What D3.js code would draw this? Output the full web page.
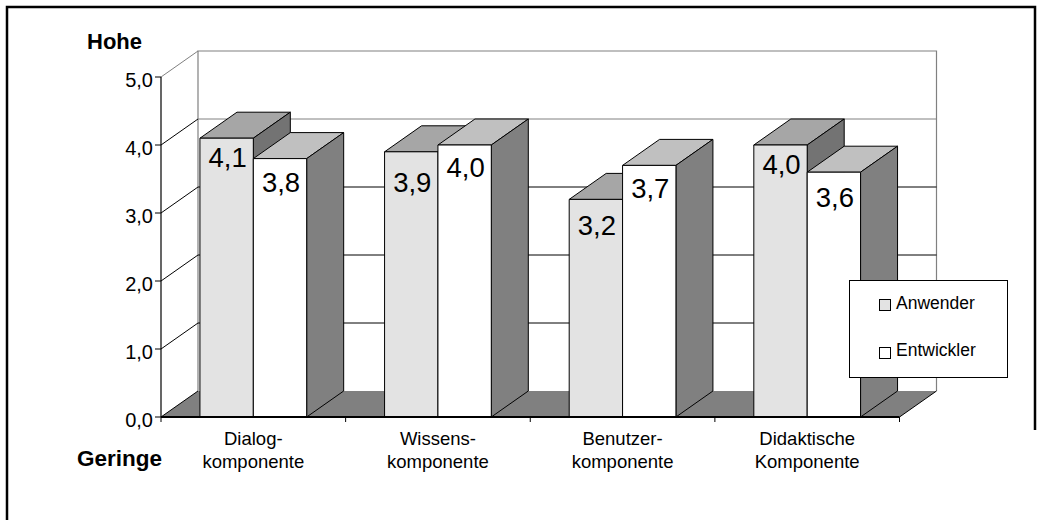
<!DOCTYPE html>
<html>
<head>
<meta charset="utf-8">
<script src="https://cdn.jsdelivr.net/npm/d3@7"></script>
<style>
  html, body { margin: 0; padding: 0; background: #fff; }
  svg { display: block; font-family: "Liberation Sans", Arial, sans-serif; }
</style>
</head>
<body>
<svg id="chart" width="1042" height="520"></svg>
<script>
// Categories (two-line labels) and the two rated groups
const categories = ["Dialogkomponente", "Wissenskomponente", "Benutzerkomponente", "Didaktische Komponente"];
const categoryLines = [["Dialog-", "komponente"], ["Wissens-", "komponente"], ["Benutzer-", "komponente"], ["Didaktische", "Komponente"]];
const seriesNames = ["Anwender", "Entwickler"];
const anwender = [4.1, 3.9, 3.2, 4.0];
const entwickler = [3.8, 4.0, 3.7, 3.6];
const yTicks = [0, 1, 2, 3, 4, 5];
const yTickLabels = ["0,0", "1,0", "2,0", "3,0", "4,0", "5,0"];

const seriesValues = [anwender, entwickler];
const fmt = v => v.toFixed(1).replace(".", ",");

// Layout
const svg = d3.select("#chart");
const x0 = 161, x1 = 899.5;      // front floor edge
const yBase = 417, yTop = 77;    // value 0 and value 5 on the front axis
const DX = 37, DY = 26;          // oblique depth offset
const labelDrop = [[29, 33], [40, 32], [36, 33], [29, 35]]; // label baseline below bar top

const y = d3.scaleLinear().domain([0, 5]).range([yBase, yTop]);
const xCat = d3.scaleBand().domain(categories).range([x0, x1]).paddingInner(0).paddingOuter(0);
const xSer = d3.scaleBand().domain(seriesNames).range([0, xCat.bandwidth()]).paddingInner(0).paddingOuter(0.73);

const styles = {
  Anwender:   { front: "#e3e3e3", top: "#a6a6a6", side: "#737373" },
  Entwickler: { front: "#ffffff", top: "#c0c0c0", side: "#808080" }
};

// Outer frame
svg.append("path")
  .attr("d", "M7,522 L7,7 L1035,7 L1035,430")
  .attr("fill", "none").attr("stroke", "#000").attr("stroke-width", 2.5);

// Back wall outline
const wall = svg.append("g");
wall.append("path")
  .attr("d", `M${x0 + DX},${y(0) - DY} L${x0 + DX},${y(5) - DY} L${x1 + DX},${y(5) - DY} L${x1 + DX},${y(0) - DY}`)
  .attr("fill", "none").attr("stroke", "#808080").attr("stroke-width", 1.2);

// Gridlines on back wall and side diagonals
yTicks.filter(v => v > 0 && v < 5).forEach(v => {
  wall.append("line")
    .attr("x1", x0 + DX).attr("x2", x1 + DX)
    .attr("y1", y(v) - DY).attr("y2", y(v) - DY)
    .attr("stroke", v >= 4 ? "#808080" : "#000").attr("stroke-width", 1);
});
yTicks.filter(v => v > 0).forEach(v => {
  wall.append("line")
    .attr("x1", x0).attr("y1", y(v))
    .attr("x2", x0 + DX).attr("y2", y(v) - DY)
    .attr("stroke", v >= 5 ? "#808080" : "#000").attr("stroke-width", 1);
});

// Floor
svg.append("path")
  .attr("d", `M${x0},${yBase} L${x1},${yBase} L${x1 + DX},${yBase - DY} L${x0 + DX},${yBase - DY} Z`)
  .attr("fill", "#808080").attr("stroke", "none");
svg.append("line").attr("x1", x0).attr("y1", yBase).attr("x2", x0 + DX).attr("y2", yBase - DY)
  .attr("stroke", "#000").attr("stroke-width", 1);
svg.append("line").attr("x1", x1).attr("y1", yBase).attr("x2", x1 + DX).attr("y2", yBase - DY)
  .attr("stroke", "#000").attr("stroke-width", 1);

// Bars
const bars = svg.append("g");
categories.forEach((cat, ci) => {
  seriesNames.forEach((s, si) => {
    const v = seriesValues[si][ci];
    const xl = xCat(cat) + xSer(s);
    const w = xSer.bandwidth();
    const yv = y(v);
    const st = styles[s];
    const g = bars.append("g").attr("stroke", "#000").attr("stroke-width", 1).attr("stroke-linejoin", "round");
    g.append("path")
      .attr("d", `M${xl},${yv} L${xl + w},${yv} L${xl + w + DX},${yv - DY} L${xl + DX},${yv - DY} Z`)
      .attr("fill", st.top);
    g.append("path")
      .attr("d", `M${xl + w},${yv} L${xl + w + DX},${yv - DY} L${xl + w + DX},${yBase - DY} L${xl + w},${yBase} Z`)
      .attr("fill", st.side);
    g.append("rect")
      .attr("x", xl).attr("y", yv).attr("width", w).attr("height", yBase - yv)
      .attr("fill", st.front);
    svg.append("text")
      .attr("x", xl + w / 2 + 1).attr("y", yv + labelDrop[ci][si])
      .attr("text-anchor", "middle").attr("font-size", 27.5).attr("fill", "#000")
      .text(fmt(v));
  });
});

// Front axes
svg.append("line").attr("x1", x0).attr("x2", x0).attr("y1", y(5)).attr("y2", yBase)
  .attr("stroke", "#000").attr("stroke-width", 1.2);
svg.append("line").attr("x1", x0).attr("x2", x1).attr("y1", yBase).attr("y2", yBase)
  .attr("stroke", "#000").attr("stroke-width", 1.8);

const yAxis = svg.append("g");
yTicks.forEach((v, i) => {
  yAxis.append("line").attr("x1", x0 - 6).attr("x2", x0).attr("y1", y(v)).attr("y2", y(v))
    .attr("stroke", "#000").attr("stroke-width", 1);
  yAxis.append("text").attr("x", x0 - 8).attr("y", y(v) + 10)
    .attr("text-anchor", "end").attr("font-size", 20).text(yTickLabels[i]);
});

// Category ticks and labels
const xTicks = categories.map(c => xCat(c)).concat([x1]);
xTicks.forEach(t => {
  svg.append("line").attr("x1", t).attr("x2", t).attr("y1", yBase).attr("y2", yBase + 5)
    .attr("stroke", "#000").attr("stroke-width", 1);
});
categories.forEach((c, ci) => {
  const t = svg.append("text").attr("text-anchor", "middle").attr("font-size", 18.5);
  categoryLines[ci].forEach((line, li) => {
    t.append("tspan").attr("x", xCat(c) + xCat.bandwidth() / 2).attr("y", 445 + li * 23).text(line);
  });
});

// Scale end captions
svg.append("text").attr("x", 87).attr("y", 49).attr("font-size", 22).attr("font-weight", "bold").text("Hohe");
svg.append("text").attr("x", 77).attr("y", 466).attr("font-size", 22.5).attr("font-weight", "bold").text("Geringe");

// Legend
const legend = svg.append("g");
legend.append("rect").attr("x", 849.5).attr("y", 280.5).attr("width", 158).attr("height", 97)
  .attr("fill", "#fff").attr("stroke", "#000").attr("stroke-width", 1);
seriesNames.forEach((s, i) => {
  legend.append("rect").attr("x", 879.5).attr("y", 299.5 + i * 48).attr("width", 11).attr("height", 11)
    .attr("fill", styles[s].front).attr("stroke", "#000").attr("stroke-width", 1);
  legend.append("text").attr("x", 896).attr("y", 308.5 + i * 47.5).attr("font-size", 17.5).text(s);
});
</script>
</body>
</html>
